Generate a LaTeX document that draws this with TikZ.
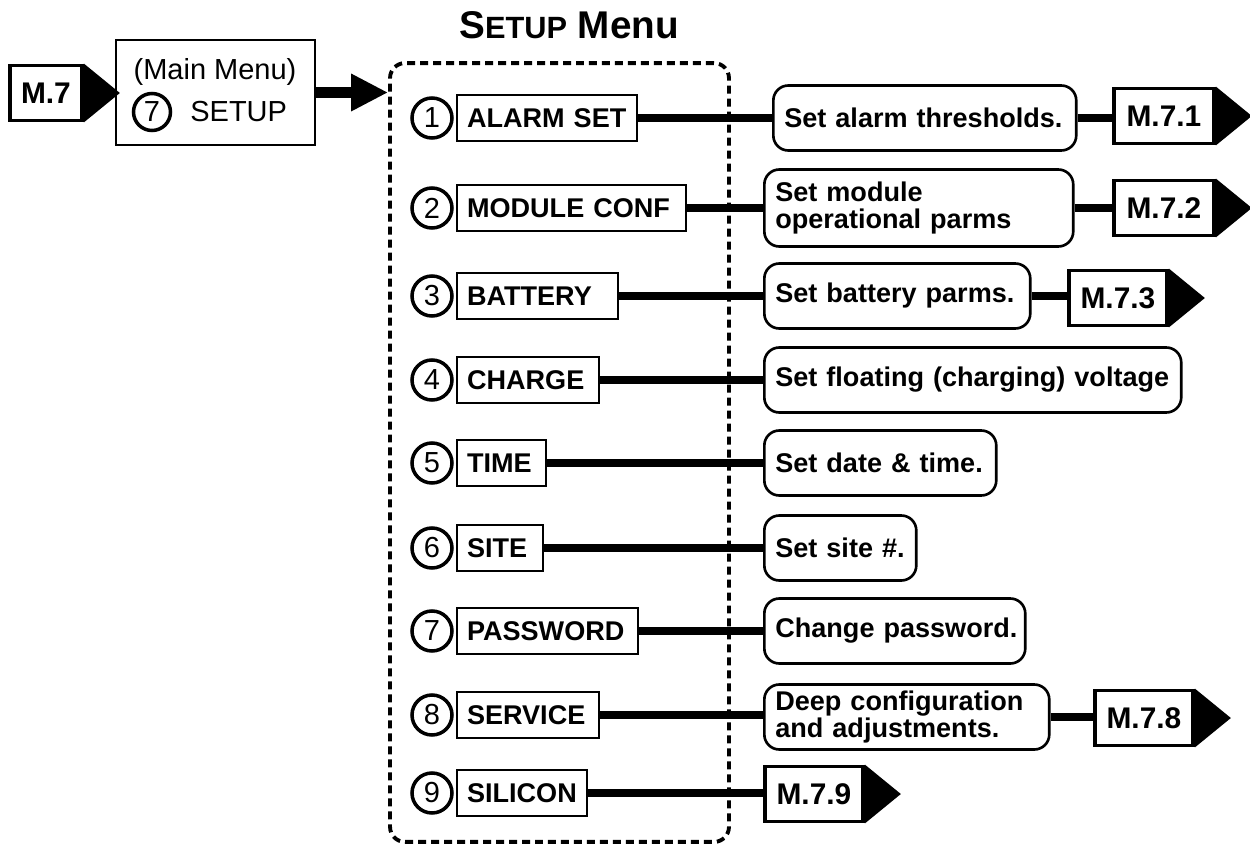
\documentclass[tikz,border=0pt]{standalone}
\usepackage{fontspec}
\setmainfont{Liberation Sans}
\usetikzlibrary{arrows.meta}

\newcommand{\itemfont}{\bfseries\fontsize{15.4}{16}\selectfont}
\newcommand{\descfont}{\bfseries\fontsize{15.4}{15.4}\selectfont}
\newcommand{\tagfont}{\bfseries\fontsize{17}{20}\selectfont}
\newcommand{\plainfont}{\fontsize{16.5}{19}\selectfont}

\begin{document}
\begin{tikzpicture}[x=0.02cm, y=-0.02cm,
        menuitem/.style={draw, line width=1.2pt, anchor=west, minimum height=0.92cm, inner xsep=0.2cm, align=left, font=\itemfont},
        numcirc/.style={circle, draw, line width=2pt, minimum size=0.8cm, inner sep=0pt, font=\plainfont},
        desc/.style={draw, line width=1.5pt, rounded corners=0.3cm, anchor=west, minimum height=1.3cm, inner xsep=0.22cm, align=left, font=\descfont},
        mtag/.style={draw, line width=2.2pt, minimum height=1.1cm, inner sep=0pt, anchor=west, font=\tagfont},
        link/.style={line width=4.5pt}]
        \useasboundingbox (0,0) rectangle (1250,844);

        % Title and dashed menu frame
        \node[font=\bfseries\fontsize{22}{26}\selectfont] (title) at (569,25) {S{\fontsize{17.5}{26}\selectfont ETUP} Menu};
        \node[draw, line width=2.2pt, dash pattern=on 0.16cm off 0.1cm, rounded corners=0.3cm, minimum width=6.78cm, minimum height=15.58cm] (menu) at (559.5,452.5) {};

        % Main menu entry
        \node[draw, line width=1.3pt, minimum width=3.98cm, minimum height=2.1cm] (main) at (215.5,92.5) {};
        \node[font=\plainfont] (mainlbl) at (215,72) {(Main Menu)};
        \node[numcirc, minimum size=0.74cm] (num0) at (152,112) {7};
        \node[font=\plainfont, anchor=west, inner sep=0pt] (setuplbl) at (190,112) {SETUP};
        \draw[line width=6pt, -{Triangle[length=0.74cm, width=0.7cm]}] (main.east) -- (main.east -| menu.west);

        % Menu items
        \foreach \n/\y/\lab/\tw in {1/118/ALARM SET/3.2, 2/208/MODULE CONF/4.18, 3/296/BATTERY/2.82,
                4/380/CHARGE/2.44, 5/463/TIME/1.38, 6/548/SITE/1.32, 7/631/PASSWORD/3.22,
                8/715/SERVICE/2.44, 9/793/SILICON/2.2} {
            \node[numcirc] (num\n) at (432,\y) {\n};
            \node[menuitem, text width=\tw cm] (item\n) at (456,\y) {\lab};
        }

        % Descriptions
        \node[desc, text width=5.62cm] (d1) at (772,118) {Set alarm thresholds.};
        \node[desc, text width=5.74cm, minimum height=1.54cm] (d2) at (763,208) {Set module\\operational parms};
        \node[desc, text width=4.88cm] (d3) at (763,296) {Set battery parms.};
        \node[desc, text width=7.9cm] (d4) at (763,380) {Set floating (charging) voltage};
        \node[desc, text width=4.2cm] (d5) at (763,463) {Set date \& time.};
        \node[desc, text width=2.6cm] (d6) at (763,548) {Set site \#.};
        \node[desc, text width=4.78cm] (d7) at (763,631) {\mbox{Change password.}};
        \node[desc, text width=5.26cm] (d8) at (763,717) {Deep configuration\\and adjustments.};

        % Menu reference tags
        \foreach \t/\x/\y/\w/\lab in {t0/8/93/1.44/M.7, t1/1112/116/2.0/M.7.1, t2/1112/208/2.0/M.7.2,
                t3/1067/298/1.96/M.7.3, t8/1093/718/1.96/M.7.8, t9/763/794/1.96/M.7.9} {
            \node[mtag, minimum width=\w cm] (\t) at (\x,\y) {\lab};
            \fill (\t.north east) -- ([xshift=0.72cm]\t.east) -- (\t.south east) -- cycle;
        }

        % Connectors
        \foreach \n in {1,...,8} {
            \draw[link] (item\n.east) -- (item\n.east -| d\n.west);
        }
        \draw[link] (d1.east) -- (d1.east -| t1.west);
        \draw[link] (d2.east) -- (d2.east -| t2.west);
        \draw[link] (d3.east) -- (d3.east -| t3.west);
        \draw[link] (d8.east) -- (d8.east -| t8.west);
        \draw[link] (item9.east) -- (item9.east -| t9.west);
    \end{tikzpicture}
\end{document}
